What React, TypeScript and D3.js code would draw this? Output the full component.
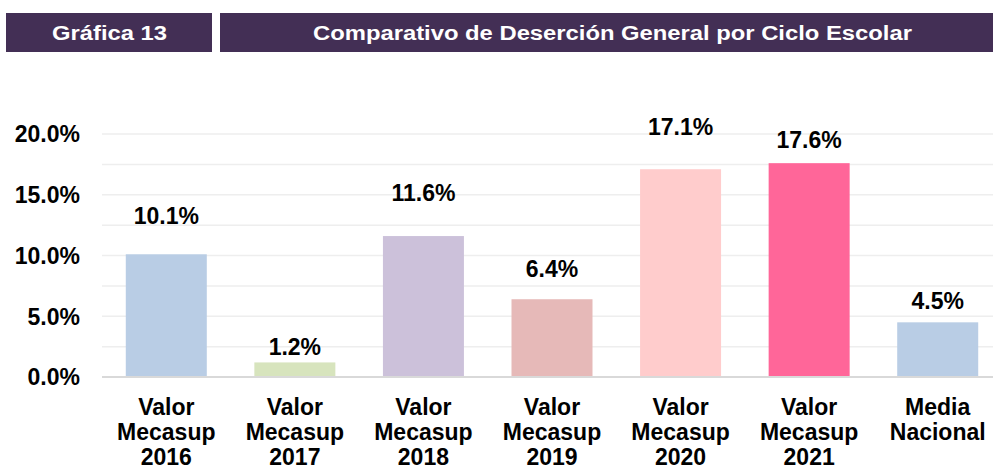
import React from "react";
import * as d3 from "d3";

const width = 993;
const height = 470;
const margin = { top: 134, right: -9, bottom: 93, left: 102 };

// data
const categories = [
  ["Valor", "Mecasup", "2016"],
  ["Valor", "Mecasup", "2017"],
  ["Valor", "Mecasup", "2018"],
  ["Valor", "Mecasup", "2019"],
  ["Valor", "Mecasup", "2020"],
  ["Valor", "Mecasup", "2021"],
  ["Media", "Nacional"],
];
const values = [0.101, 0.012, 0.116, 0.064, 0.171, 0.176, 0.045];
const barColors = ["#b9cde5", "#d7e4bd", "#ccc1da", "#e6b9b8", "#ffcccc", "#ff6699", "#b9cde5"];
const yTicks = [0, 0.05, 0.1, 0.15, 0.2];
const gridTicks = [0.025, 0.05, 0.075, 0.1, 0.125, 0.15, 0.175, 0.2];
// how far above the bar top each value label sits (Excel placed them by hand)
const labelLift = [39, 16, 43, 31, 43, 23, 22];

const headerLeft = "Gráfica 13";
const headerRight = "Comparativo de Deserción General por Ciclo Escolar";

const font = "Liberation Sans, Arial, sans-serif";

export default function App() {
  const x = d3
    .scaleBand()
    .domain(categories.map((_, i) => String(i)))
    .range([margin.left, width - margin.right])
    .paddingInner(0.37)
    .paddingOuter(0.185);

  const y = d3.scaleLinear().domain([0, 0.2]).range([height - margin.bottom, margin.top]);
  const fmt = d3.format(".1%");

  return (
    <svg
      width={width}
      height={height}
      style={{ position: "absolute", left: 0, top: 0, fontFamily: font }}
    >
      <rect width={width} height={height} fill="#fff" />

      {/* header boxes, the text is stretched wide in the original */}
      <rect x={6} y={13} width={206} height={39} fill="#432f55" />
      <text
        transform="translate(109.5,39.5) scale(1.19,1)"
        textAnchor="middle"
        fill="#fff"
        fontWeight="bold"
        fontSize={20}
      >
        {headerLeft}
      </text>
      <rect x={220} y={13} width={773} height={39} fill="#432f55" />
      <text
        transform="translate(612.5,39.5) scale(1.19,1)"
        textAnchor="middle"
        fill="#fff"
        fontWeight="bold"
        fontSize={20}
      >
        {headerRight}
      </text>

      {/* gridlines */}
      {gridTicks.map((t) => (
        <line key={t} x1={margin.left} x2={width} y1={y(t)} y2={y(t)} stroke="#eeeeee" strokeWidth={1.5} />
      ))}

      {/* bars */}
      {values.map((v, i) => (
        <rect
          key={i}
          x={x(String(i))}
          y={y(v)}
          width={x.bandwidth()}
          height={y(0) - y(v)}
          fill={barColors[i]}
        />
      ))}

      {/* baseline */}
      <line x1={margin.left} x2={width} y1={y(0)} y2={y(0)} stroke="#d9d9d9" strokeWidth={2} />

      {/* y labels */}
      {yTicks.map((t) => (
        <text
          key={t}
          x={80}
          y={y(t)}
          dy="0.36em"
          textAnchor="end"
          fontWeight="bold"
          fontSize={23}
          fill="#000"
        >
          {fmt(t)}
        </text>
      ))}

      {/* value labels */}
      {values.map((v, i) => (
        <text
          key={i}
          x={x(String(i))! + x.bandwidth() / 2}
          y={y(v) - labelLift[i]}
          dy="0.36em"
          textAnchor="middle"
          fontWeight="bold"
          fontSize={23}
          fill="#000"
        >
          {fmt(v)}
        </text>
      ))}

      {/* x labels */}
      {categories.map((lines, i) => (
        <text
          key={i}
          x={x(String(i))! + x.bandwidth() / 2}
          textAnchor="middle"
          fontWeight="bold"
          fontSize={23}
          fill="#000"
        >
          {lines.map((l, j) => (
            <tspan key={j} x={x(String(i))! + x.bandwidth() / 2} y={407 + j * 25} dy="0.36em">
              {l}
            </tspan>
          ))}
        </text>
      ))}
    </svg>
  );
}
